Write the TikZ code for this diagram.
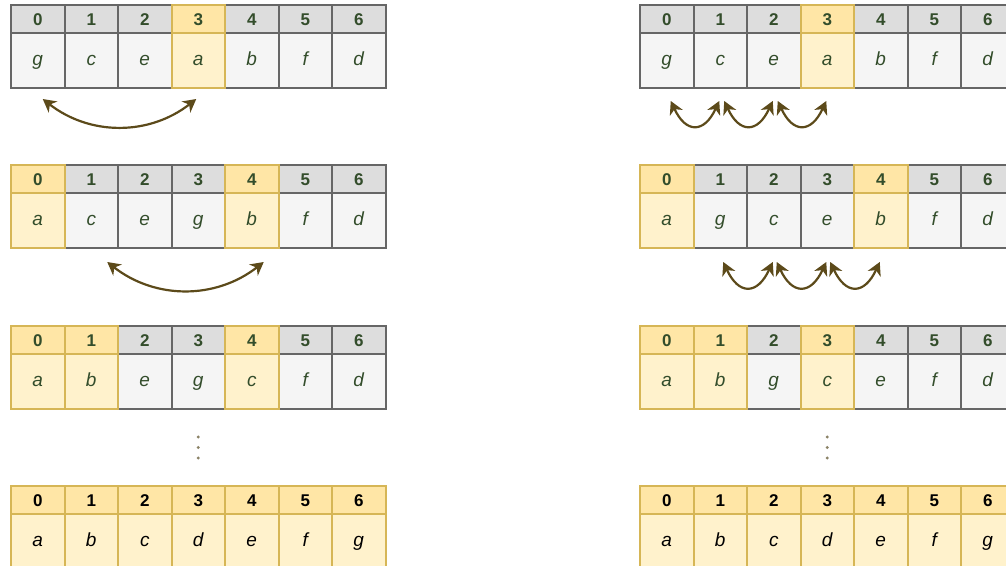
\documentclass[tikz,border=0pt]{standalone}
\usepackage{fontspec}
\setmainfont{Liberation Sans}
\usetikzlibrary{arrows.meta,calc}

\definecolor{hdgray}{HTML}{DDDDDD}
\definecolor{valgray}{HTML}{F5F5F5}
\definecolor{edgegray}{HTML}{666666}
\definecolor{hdgold}{HTML}{FFE6A6}
\definecolor{valgold}{HTML}{FFF2CC}
\definecolor{edgegold}{HTML}{D6B656}
\definecolor{ink}{HTML}{334D2B}
\definecolor{swapc}{HTML}{5C4A1A}
\definecolor{dotc}{HTML}{8A8266}

\begin{document}
\begin{tikzpicture}[x=1pt, y=-1pt,
    idx/.style={rectangle, draw=edgegray, fill=hdgray, line width=2pt, minimum width=53.5pt, minimum height=28pt,
      inner sep=0pt, text height=12.2pt, text depth=0pt, font=\fontsize{17}{17}\selectfont\bfseries},
    val/.style={idx, fill=valgray, minimum height=55pt, text height=9.6pt, font=\fontsize{19}{19}\selectfont\itshape},
    hotidx/.style={idx, draw=edgegold, fill=hdgold},
    hotval/.style={val, draw=edgegold, fill=valgold},
    swap/.style={line width=2.2pt, draw=swapc, {Stealth[length=13pt,width=14pt,inset=4pt]}-{Stealth[length=13pt,width=14pt,inset=4pt]}}]
    \useasboundingbox (0,0) rectangle (1006,565);
    \clip (0,0) rectangle (1006,565);
    \fill[white] (0,0) rectangle (1006,565);

    % arrays still being sorted: grey cells first, then the yellow ones on top
    \foreach \a/\x/\y/\plain/\hot in {
        A1/11/5/{0/g,1/c,2/e,4/b,5/f,6/d}/{3/a},
        A2/11/165/{1/c,2/e,3/g,5/f,6/d}/{0/a,4/b},
        A3/11/326/{2/e,3/g,5/f,6/d}/{0/a,1/b,4/c},
        B1/640/5/{0/g,1/c,2/e,4/b,5/f,6/d}/{3/a},
        B2/640/165/{1/g,2/c,3/e,5/f,6/d}/{0/a,4/b},
        B3/640/326/{2/g,4/e,5/f,6/d}/{0/a,1/b,3/c}}{
        \foreach \i/\t in \plain {
            \node[idx, text=ink] (\a-h\i) at ({\x+26.75+53.5*\i},{\y+14}) {\i};
            \node[val, text=ink] (\a-v\i) at ({\x+26.75+53.5*\i},{\y+55.5}) {\t};
        }
        \foreach \i/\t in \hot {
            \node[hotidx, text=ink] (\a-h\i) at ({\x+26.75+53.5*\i},{\y+14}) {\i};
            \node[hotval, text=ink] (\a-v\i) at ({\x+26.75+53.5*\i},{\y+55.5}) {\t};
        }
    }

    % sorted arrays
    \foreach \a/\x in {A4/11, B4/640}{
        \foreach \i/\t in {0/a,1/b,2/c,3/d,4/e,5/f,6/g}{
            \node[hotidx, text=black] (\a-h\i) at ({\x+26.75+53.5*\i},{486+14}) {\i};
            \node[hotval, text=black] (\a-v\i) at ({\x+26.75+53.5*\i},{486+55.5}) {\t};
        }
    }

    % swaps
    \draw[swap] ([xshift=5pt, yshift=-10pt]A1-v0.south) to[bend right=38] ([xshift=-2pt, yshift=-10pt]A1-v3.south);
    \draw[swap] ([xshift=16pt, yshift=-13pt]A2-v1.south) to[bend right=38] ([xshift=12pt, yshift=-13pt]A2-v4.south);
    \foreach \k/\n in {0/1,1/2,2/3}
        \draw[swap] ([xshift=4pt, yshift=-12pt]B1-v\k.south) to[bend right=65, looseness=1.9] ([xshift=-1pt, yshift=-12pt]B1-v\n.south);
    \foreach \k/\n in {1/2,2/3,3/4}
        \draw[swap] ([xshift=3pt, yshift=-13pt]B2-v\k.south) to[bend right=65, looseness=1.9] ([xshift=-1pt, yshift=-13pt]B2-v\n.south);

    % gaps
    \coordinate (gapA) at ($(A3-v3.south)!.5!(A4-h3.north)$);
    \coordinate (gapB) at ($(B3-v3.south)!.5!(B4-h3.north)$);
    \foreach \g in {gapA, gapB}
        \foreach \d in {-10.5,0,10.5}
            \fill[dotc] ([yshift=\d pt]\g) circle (1.6pt);
\end{tikzpicture}
\end{document}
